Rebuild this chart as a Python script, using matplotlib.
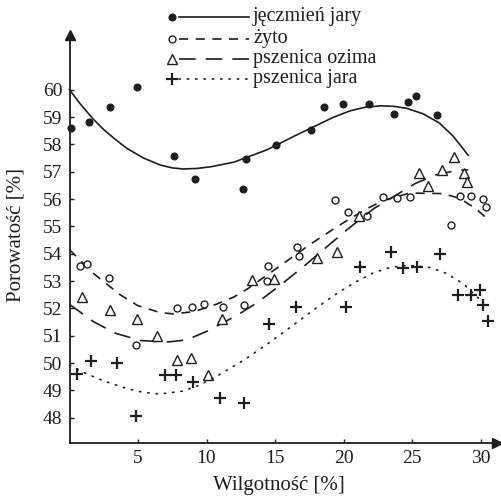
import numpy as np
import matplotlib
matplotlib.use("Agg")
import matplotlib.pyplot as plt
from matplotlib.lines import Line2D

plt.rcParams['font.family'] = ['Liberation Serif', 'DejaVu Serif']

# --- data ---
labels = ["jęczmień jary", "żyto", "pszenica ozima", "pszenica jara"]

x_jeczmien = [0.1, 1.45, 2.96, 4.9, 7.65, 9.16, 12.64, 12.86, 15.07, 17.63,
              18.6, 19.94, 21.88, 23.7, 24.69, 25.3, 26.8]
y_jeczmien = [58.6, 58.82, 59.37, 60.1, 57.59, 56.74, 56.38, 57.46, 57.99, 58.51,
              59.35, 59.49, 59.49, 59.1, 59.54, 59.78, 59.07]

x_zyto = [0.8, 1.25, 2.9, 4.85, 7.87, 8.97, 9.82, 11.23, 12.74, 14.39, 14.47,
          16.58, 16.77, 19.4, 20.35, 21.69, 22.86, 23.93, 24.85, 27.85, 28.5,
          29.28, 30.16, 30.4]
y_zyto = [53.55, 53.62, 53.11, 50.67, 52.03, 52.07, 52.16, 52.07, 52.11, 53.01,
          53.56, 54.26, 53.93, 55.95, 55.53, 55.39, 56.07, 56.04, 56.07, 55.05,
          56.1, 56.12, 56.0, 55.71]

x_ozima = [0.93, 2.96, 4.9, 6.36, 7.87, 8.85, 10.13, 11.1, 13.3, 14.93, 18.09,
           19.5, 21.16, 25.53, 26.19, 27.17, 28.09, 28.8, 28.99]
y_ozima = [52.41, 51.93, 51.62, 51.01, 50.12, 50.2, 49.57, 51.6, 53.05, 53.08,
           53.84, 54.06, 55.39, 56.97, 56.49, 57.05, 57.54, 56.97, 56.61]

x_jara = [0.52, 1.57, 3.49, 4.85, 6.97, 7.77, 9.04, 10.99, 12.76, 14.58, 16.53,
          20.18, 21.2, 23.45, 24.36, 25.34, 27.04, 28.38, 29.31, 29.96, 30.16, 30.57]
y_jara = [49.61, 50.08, 50.02, 48.05, 49.57, 49.55, 49.3, 48.74, 48.56, 51.44,
          52.05, 52.05, 53.5, 54.08, 53.48, 53.51, 53.99, 52.5, 52.5, 52.68,
          52.13, 51.55]

# trend lines, values
tx_jeczmien = [0, 0.8, 1.7, 2.5, 3.3, 4.2, 5.4, 6.6, 7.5, 8.3, 9.3, 10.3, 12.0,
               14.4, 16.8, 19.3, 20.5, 21.6, 22.7, 23.7, 24.6, 25.8, 27.0, 28.0, 29.1]
ty_jeczmien = [60.0, 59.47, 58.94, 58.54, 58.2, 57.85, 57.5, 57.25, 57.14, 57.1,
               57.12, 57.18, 57.35, 57.8, 58.4, 59.0, 59.23, 59.36, 59.41, 59.39,
               59.32, 59.12, 58.78, 58.3, 57.6]

tx_zyto = [0, 1.7, 3.7, 5.0, 6.6, 7.6, 9.0, 10.3, 12.0, 13.0, 15.6, 17.55, 19.5,
           20.4, 21.6, 22.9, 24.85, 27.3, 28.5, 29.6, 30.45]
ty_zyto = [54.15, 53.3, 52.5, 52.1, 51.85, 51.8, 51.88, 52.07, 52.42, 52.72,
           53.64, 54.34, 54.98, 55.26, 55.62, 55.95, 56.22, 56.2, 56.02, 55.67, 55.3]

tx_ozima = [0, 1.74, 3.32, 5.15, 7.1, 8.55, 10.0, 12.2, 13.66, 15.36, 17.07,
            18.65, 20.23, 22.17, 25.2, 26.68, 28.26, 29.1]
ty_ozima = [52.15, 51.52, 51.1, 50.83, 50.77, 50.85, 51.16, 51.74, 52.2, 52.84,
            53.53, 54.2, 54.87, 55.64, 56.56, 56.88, 57.05, 57.07]

tx_jara = [0, 1.3, 2.5, 4.2, 5.4, 6.6, 8.3, 9.5, 10.74, 12.69, 14.39, 16.09,
           17.8, 19.26, 20.7, 22.17, 23.4, 24.8, 26.3, 27.53, 28.74, 29.84, 30.3]
ty_jara = [49.92, 49.6, 49.35, 49.07, 48.93, 48.87, 48.98, 49.2, 49.52, 50.1,
           50.68, 51.3, 51.94, 52.46, 52.92, 53.3, 53.5, 53.58, 53.5, 53.28,
           52.9, 52.38, 52.1]

xs_all = [x_jeczmien, x_zyto, x_ozima, x_jara]
ys_all = [y_jeczmien, y_zyto, y_ozima, y_jara]
txs_all = [tx_jeczmien, tx_zyto, tx_ozima, tx_jara]
tys_all = [ty_jeczmien, ty_zyto, ty_ozima, ty_jara]

ink = '#1e1e1e'
markers = [dict(marker='o', ms=4.8, mfc=ink, mec=ink),
           dict(marker='o', ms=5, mfc='white', mec=ink, mew=1.0),
           dict(marker='^', ms=7, mfc='white', mec=ink, mew=1.0),
           dict(marker='+', ms=8.5, mec=ink, mew=1.6)]
line_dash = [None, (5.5, 4.5), (10, 6), (0.8, 4.2)]

fig = plt.figure(figsize=(5.01, 5.0), dpi=100)
ax = fig.add_axes([69.5 / 501, 1 - 443 / 500, (497 - 69.5) / 501, (443 - 35) / 500])

for i in range(4):
    ln, = ax.plot(txs_all[i], tys_all[i], color=ink, lw=1.2, clip_on=False)
    ln.set_solid_joinstyle('round')
    if line_dash[i] is not None:
        ln.set_dashes(line_dash[i])
        if i == 3:
            ln.set_dash_capstyle('round')
    ax.plot(xs_all[i], ys_all[i], ls='none', clip_on=False, **markers[i])

ax.set_xlim(0, 31.2)
ax.set_ylim(47.08, 62.0)
ax.set_xticks([5, 10, 15, 20, 25, 30])
ax.set_yticks(range(48, 61))
ax.tick_params(direction='in', length=3, width=1, colors=ink, labelsize=14, pad=5)
for s in ['top', 'right']:
    ax.spines[s].set_visible(False)
for s in ['left', 'bottom']:
    ax.spines[s].set_linewidth(1.3)
    ax.spines[s].set_color(ink)
# axis arrows
ax.plot(1, 0, '>', color=ink, ms=7, transform=ax.transAxes, clip_on=False)
ax.plot(0, 1, '^', color=ink, ms=7, transform=ax.transAxes, clip_on=False)

ax.set_xlabel("Wilgotność [%]", fontsize=15, color=ink, va='center')
ax.xaxis.set_label_coords(0.49, -0.105)
ax.set_ylabel("Porowatość [%]", fontsize=15, color=ink, va='center')
ax.yaxis.set_label_coords(-0.125, 0.51)

# legend, drawn by hand: marker, then line, then text
row_y = [17, 39, 59, 79]
for i in range(4):
    yf = 1 - row_y[i] / 500
    fig.add_artist(Line2D([171.5 / 501], [yf], ls='none', **markers[i]))
    lg = Line2D([179 / 501, 249 / 501], [yf, yf], color=ink, lw=1.2)
    if line_dash[i] is not None:
        lg.set_dashes(line_dash[i])
        if i == 3:
            lg.set_dash_capstyle('round')
    fig.add_artist(lg)
    fig.text(253 / 501, 1 - (row_y[i] + 4.5) / 500, labels[i], fontsize=14.5,
             color=ink, va='baseline', ha='left')

fig.savefig("out.png", dpi=100)
